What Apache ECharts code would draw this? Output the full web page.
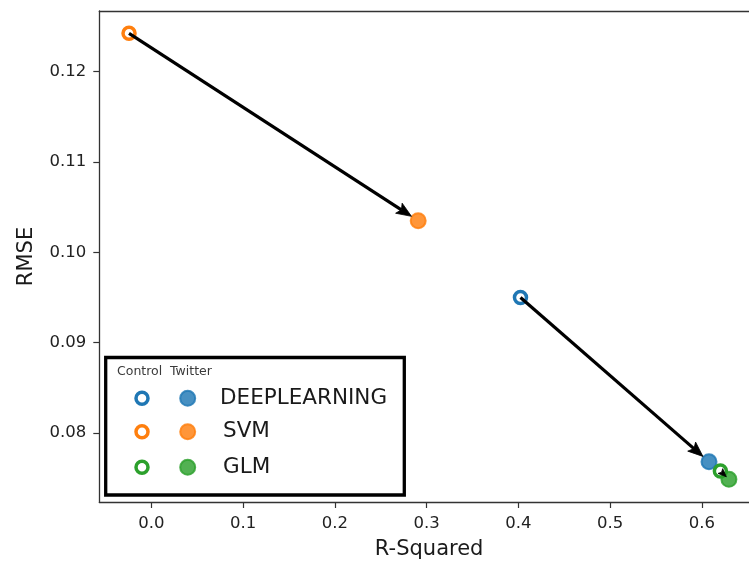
<!DOCTYPE html>
<html>
<head>
<meta charset="utf-8">
<script src="https://cdn.jsdelivr.net/npm/echarts@6/dist/echarts.min.js"></script>
<style>
html,body{margin:0;padding:0;background:#fff;}
#chart{width:749px;height:565px;}
</style>
</head>
<body>
<div id="chart"></div>
<script>
// ---- data ----
const models = ['DEEPLEARNING', 'SVM', 'GLM'];
const colors = ['#1f77b4', '#ff7f0e', '#2ca02c'];
const controlR2 = [0.4024, -0.0243, 0.6203];
const controlRMSE = [0.0950, 0.12425, 0.07578];
const twitterR2 = [0.6079, 0.2909, 0.6296];
const twitterRMSE = [0.07681, 0.1035, 0.07486];
const xTicks = [0.0, 0.1, 0.2, 0.3, 0.4, 0.5, 0.6];
const yTicks = [0.08, 0.09, 0.10, 0.11, 0.12];
const legendHeaders = ['Control', 'Twitter'];

const FONT = 'DejaVu Sans';
function rgba(hex, a) {
  const n = parseInt(hex.slice(1), 16);
  return 'rgba(' + ((n >> 16) & 255) + ',' + ((n >> 8) & 255) + ',' + (n & 255) + ',' + a + ')';
}

const chart = echarts.init(document.getElementById('chart'), null, {renderer: 'canvas'});

const series = [];
models.forEach((m, i) => {
  series.push({
    type: 'scatter', name: m + ' control', silent: true, z: 2,
    data: [[controlR2[i], controlRMSE[i]]],
    symbol: 'circle', symbolSize: 12,
    itemStyle: {color: '#ffffff', borderColor: colors[i], borderWidth: 3.5, opacity: 1}
  });
  series.push({
    type: 'scatter', name: m + ' twitter', silent: true, z: 2,
    data: [[twitterR2[i], twitterRMSE[i]]],
    symbol: 'circle', symbolSize: 15,
    itemStyle: {color: rgba(colors[i], 0.82), borderColor: rgba(colors[i], 0.82), borderWidth: 2, opacity: 1}
  });
});

const arrowData = models.map((m, i) => [controlR2[i], controlRMSE[i], twitterR2[i], twitterRMSE[i]]);
series.push({
  type: 'custom', silent: true, z: 5,
  data: arrowData,
  encode: {x: [0, 2], y: [1, 3]},
  renderItem: function (params, api) {
    const p0 = api.coord([api.value(0), api.value(1)]);
    const p1 = api.coord([api.value(2), api.value(3)]);
    const dx = p1[0] - p0[0], dy = p1[1] - p0[1];
    const L = Math.sqrt(dx * dx + dy * dy);
    const ux = dx / L, uy = dy / L;
    const shrink = Math.min(8, L * 0.3);
    const Ls = L - shrink;
    const tip = [p0[0] + ux * Ls, p0[1] + uy * Ls];
    const hl = Math.min(15, Ls);
    const hw = 6 * hl / 15;
    const back = [tip[0] - ux * hl, tip[1] - uy * hl];
    const nx = -uy, ny = ux;
    const notch = [tip[0] - ux * hl * 0.8, tip[1] - uy * hl * 0.8];
    const children = [];
    if (Ls > hl) {
      children.push({
        type: 'line',
        shape: {x1: p0[0], y1: p0[1], x2: notch[0], y2: notch[1]},
        style: {stroke: '#000', lineWidth: 3.2}
      });
    }
    children.push({
      type: 'polygon',
      shape: {points: [tip, [back[0] + nx * hw, back[1] + ny * hw], notch, [back[0] - nx * hw, back[1] - ny * hw]]},
      style: {fill: '#000', stroke: '#000', lineWidth: 0.8}
    });
    return {type: 'group', children: children};
  }
});

// legend built with graphic elements
const rowY = [398.3, 431.7, 467.3];
const labelX = [220, 223, 223];
const graphic = [{
  type: 'rect', z: 100,
  shape: {x: 105.7, y: 357.5, width: 298.6, height: 137.5},
  style: {fill: '#fff', stroke: '#000', lineWidth: 3.3}
}, {
  type: 'text', z: 101, x: 117, y: 372,
  style: {text: legendHeaders[0], font: '12.5px "' + FONT + '"', fill: '#3a3a3a', verticalAlign: 'middle'}
}, {
  type: 'text', z: 101, x: 170, y: 372,
  style: {text: legendHeaders[1], font: '12.5px "' + FONT + '"', fill: '#3a3a3a', verticalAlign: 'middle'}
}];
models.forEach((m, i) => {
  graphic.push({
    type: 'circle', z: 101, shape: {cx: 142, cy: rowY[i], r: 6},
    style: {fill: '#fff', stroke: colors[i], lineWidth: 3.5}
  });
  graphic.push({
    type: 'circle', z: 101, shape: {cx: 187.7, cy: rowY[i], r: 7.5},
    style: {fill: rgba(colors[i], 0.82), stroke: rgba(colors[i], 0.82), lineWidth: 2}
  });
  graphic.push({
    type: 'text', z: 101, x: labelX[i], y: rowY[i],
    style: {text: m, font: '21.5px "' + FONT + '"', fill: '#1a1a1a', verticalAlign: 'middle'}
  });
});

const XMIN = -0.0567, XMAX = 0.6515;
const option = {
  animation: false,
  backgroundColor: '#ffffff',
  textStyle: {fontFamily: FONT},
  grid: {left: 99.3, right: 0, top: 11, bottom: 63, show: false},
  xAxis: [{
    type: 'value', min: XMIN, max: XMAX,
    name: 'R-Squared', nameLocation: 'middle', nameGap: 37,
    nameTextStyle: {fontSize: 21, color: '#1a1a1a', fontFamily: FONT, padding: [0, 0, 0, 10]},
    axisLine: {show: true, onZero: false, lineStyle: {color: '#333', width: 1.3}},
    axisTick: {show: true, length: 6, customValues: xTicks, lineStyle: {color: '#333', width: 1.2}},
    axisLabel: {customValues: xTicks, margin: 13, fontSize: 16.5, color: '#222', fontFamily: FONT,
      formatter: v => Number(v).toFixed(1)},
    splitLine: {show: false}
  }, {
    type: 'value', position: 'top', min: XMIN, max: XMAX,
    axisLine: {show: true, onZero: false, lineStyle: {color: '#333', width: 1.3}},
    axisTick: {show: false}, axisLabel: {show: false}, splitLine: {show: false}
  }],
  yAxis: {
    type: 'value', min: 0.07235, max: 0.12672,
    name: 'RMSE', nameLocation: 'middle', nameGap: 62,
    nameTextStyle: {fontSize: 21, color: '#1a1a1a', fontFamily: FONT},
    axisLine: {show: true, onZero: false, lineStyle: {color: '#333', width: 1.3}},
    axisTick: {show: true, length: 6, customValues: yTicks, lineStyle: {color: '#333', width: 1.2}},
    axisLabel: {customValues: yTicks, margin: 13, fontSize: 16.5, color: '#222', fontFamily: FONT,
      formatter: v => Number(v).toFixed(2)},
    splitLine: {show: false}
  },
  graphic: graphic,
  series: series
};
chart.setOption(option);
</script>
</body>
</html>
